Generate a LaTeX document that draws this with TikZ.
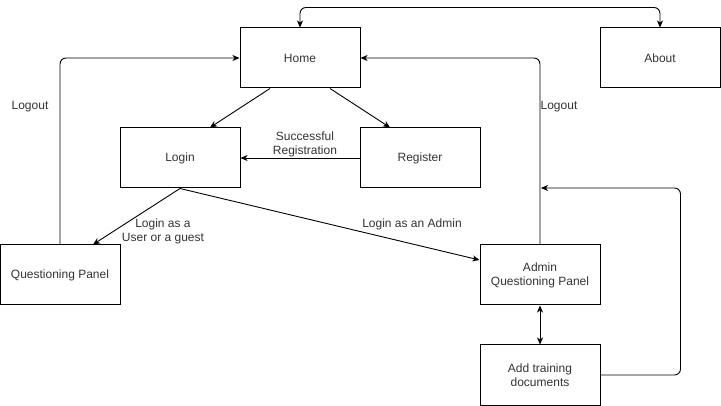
\documentclass[tikz,border=0pt]{standalone}
\usepackage{fontspec}
\setmainfont{Liberation Sans}
\usetikzlibrary{arrows.meta}
\begin{document}
\begin{tikzpicture}[x=1pt,y=-1pt,
  every node/.style={font=\fontsize{12}{14}\selectfont, text=black!80},
  box/.style={draw=black, line width=1pt, minimum width=120pt, minimum height=60pt, inner sep=0pt, align=center},
  lbl/.style={align=center, inner sep=0pt},
  conn/.style={line width=0.9pt, draw=black, -{Stealth[length=7pt,width=6pt,inset=2pt]}},
  conn2/.style={line width=0.9pt, draw=black, {Stealth[length=7pt,width=6pt,inset=2pt]}-{Stealth[length=7pt,width=6pt,inset=2pt]}}
]
\useasboundingbox (0,0) rectangle (721,406);
\node[box] (home) at (300,58) {Home};
\node[box] (about) at (660,58) {About};
\node[box] (login) at (180,158) {Login};
\node[box] (register) at (420,158) {Register};
\node[box] (qp) at (60,275) {Questioning Panel};
\node[box] (admin) at (540,275) {Admin\\Questioning Panel};
\node[box] (add) at (540,375) {Add training\\documents};

\draw[conn2, rounded corners=6pt] (home.north) -- ++(0,-20) -| (about.north);
\draw[conn] ([xshift=-30pt]home.south) -- ([xshift=30pt]login.north);
\draw[conn] ([xshift=30pt]home.south) -- ([xshift=-30pt]register.north);
\draw[conn] (register.west) -- (login.east);
\node[lbl] (lsucc) at (305,144) {Successful\\Registration};
\draw[conn] (login.south) -- ([xshift=33pt]qp.north);
\node[lbl] (luser) at (163,231) {Login as a\\User or a guest};
\draw[conn] (login.south) -- ([yshift=15pt]admin.west);
\node[lbl] (ladmin) at (412,224) {Login as an Admin};
\draw[conn, rounded corners=6pt] (qp.north) |- (home.west);
\node[lbl] (lout1) at (30,107) {Logout};
\draw[conn, rounded corners=6pt] (admin.north) |- (home.east);
\node[lbl] (lout2) at (559,107) {Logout};
\draw[conn2] (admin.south) -- (add.north);
\coordinate (j) at (541,188);
\draw[conn, rounded corners=6pt] (add.east) -- ++(80,0) |- (j);
\end{tikzpicture}
\end{document}
